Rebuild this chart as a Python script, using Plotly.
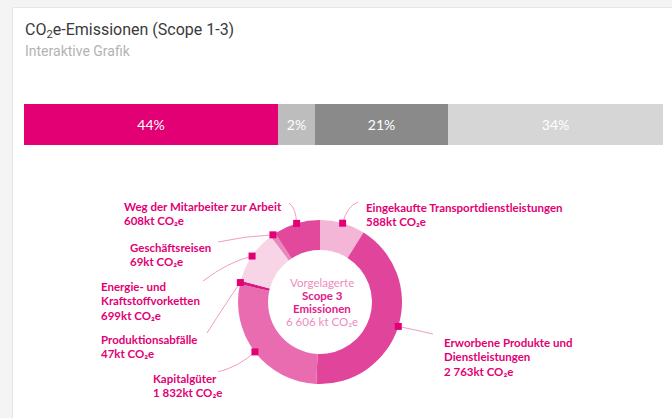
import math
import plotly.graph_objects as go

W, H = 672, 418

# ---------------- data ----------------
title_text = "CO<sub>2</sub>e-Emissionen (Scope 1-3)"
subtitle_text = "Interaktive Grafik"

bar_labels = ["44%", "2%", "21%", "34%"]
bar_values = [44, 2, 21, 34]

slice_names = [
    "Eingekaufte Transportdienstleistungen",
    "Erworbene Produkte und<br>Dienstleistungen",
    "Kapitalgüter",
    "Produktionsabfälle",
    "Energie- und<br>Kraftstoffvorketten",
    "Geschäftsreisen",
    "Weg der Mitarbeiter zur Arbeit",
]
slice_values = [588, 2763, 1832, 47, 699, 69, 608]
center_lines = ["Vorgelagerte", "Scope 3", "Emissionen"]
unit = "kt CO₂e"

# ---------------- styles ----------------
bar_colors = ["#e20074", "#bdbdbd", "#8a8a8a", "#d6d6d6"]
slice_colors = ["#f4b6d6", "#e0449b", "#ea6cb0", "#d81b80", "#f8d4e7", "#e887bd", "#e2499d"]
MAGENTA = "#e20074"
LEAD = "#f29cc8"
FONT = "Lato, Roboto, sans-serif"

# pie geometry (pixels)
CX, CY, R, HOLE = 320, 302, 82, 0.634
# bar geometry (pixels)
BX0, BX1, BY0, BY1 = 24, 663, 104, 145
MIN_W = 5.85   # minimum visible width of a bar segment (value units)
LINE_H = 14.8  # label line spacing (px)

# label layout per slice: first-line centre (tx, ty), leader end, curve control
label_layout = [
    dict(tx=364, ty=207, ex=358, ey=202, qx=347, qy=206),
    dict(tx=442, ty=342, ex=433, ey=334, qx=416, qy=330),
    dict(tx=151, ty=378, ex=218, ey=372, qx=240, qy=366),
    dict(tx=99, ty=339, ex=207, ey=333, qx=228, qy=300),
    dict(tx=99, ty=286, ex=203, ey=281, qx=228, qy=262),
    dict(tx=128, ty=247, ex=218, ey=242, qx=245, qy=236),
    dict(tx=122, ty=206, ex=289, ey=203, qx=296, qy=208),
]


def px(x):
    return x / W


def py(y):
    return 1 - y / H


def fmt(v):
    return f"{v:,}".replace(",", " ")


fig = go.Figure()

# ---------------- stacked bar with minimum segment width ----------------
total_bar = sum(bar_values)
ends = []
acc = 0
for v in bar_values:
    acc += v
    ends.append(acc)
starts = [0] + [ends[i] - max(bar_values[i], MIN_W) for i in range(1, len(bar_values))]
vis_ends = starts[1:] + [ends[-1]]
for i, (lab, col) in enumerate(zip(bar_labels, bar_colors)):
    fig.add_trace(go.Bar(
        y=[0], x=[vis_ends[i] - starts[i]], base=[starts[i]], orientation="h",
        width=1, marker=dict(color=col, line=dict(width=0)),
        text=[lab], textposition="inside", insidetextanchor="middle",
        textfont=dict(color="white", size=14, family=FONT), constraintext="none",
        hoverinfo="skip", showlegend=False, xaxis="x", yaxis="y",
    ))

# ---------------- donut ----------------
fig.add_trace(go.Pie(
    values=slice_values, labels=[n.replace("<br>", " ") for n in slice_names],
    sort=False, direction="clockwise", rotation=0, hole=HOLE,
    marker=dict(colors=slice_colors, line=dict(width=0)),
    textinfo="none", hoverinfo="label+value", showlegend=False,
    domain=dict(x=[px(CX - R), px(CX + R)], y=[py(CY + R), py(CY - R)]),
))

shapes = []
annotations = []

# card background
shapes.append(dict(type="rect", xref="paper", yref="paper", x0=px(12.5), x1=1.01, y0=-0.01, y1=py(7.5),
                   fillcolor="white", line=dict(color="#e6e6e6", width=1), layer="below"))

# markers + leaders + labels (one annotation per text line)
total = sum(slice_values)
cum = 0
for v, name, lay in zip(slice_values, slice_names, label_layout):
    mid = (cum + v / 2) / total * 2 * math.pi
    cum += v
    mx = CX + R * math.sin(mid)
    my = CY - R * math.cos(mid)
    shapes.append(dict(type="path", xref="paper", yref="paper", layer="above",
                       path=f"M {px(mx)} {py(my)} Q {px(lay['qx'])} {py(lay['qy'])} {px(lay['ex'])} {py(lay['ey'])}",
                       line=dict(color=LEAD, width=1)))
    shapes.append(dict(type="rect", xref="paper", yref="paper", layer="above",
                       x0=px(mx - 3.5), x1=px(mx + 3.5), y0=py(my + 3.5), y1=py(my - 3.5),
                       fillcolor=MAGENTA, line=dict(width=0)))
    lines = name.split("<br>") + [f"{fmt(v)}kt CO₂e"]
    for k, ln in enumerate(lines):
        annotations.append(dict(
            xref="paper", yref="paper", x=px(lay["tx"]), y=py(lay["ty"] + k * LINE_H),
            xanchor="left", yanchor="middle", text=f"<b>{ln}</b>", showarrow=False, align="left",
            font=dict(family=FONT, size=11.5, color=MAGENTA),
        ))

# centre text (one annotation per line)
center_texts = [
    (center_lines[0], "#ee8cc0", False),
    (center_lines[1], "#e0208a", True),
    (center_lines[2], "#e0208a", True),
    (f"{fmt(total)} {unit}", "#ee8cc0", False),
]
for k, (t, c, b) in enumerate(center_texts):
    annotations.append(dict(
        xref="paper", yref="paper", x=px(CX + 2), y=py(CY + (k - 1.5) * 12.8),
        xanchor="center", yanchor="middle", text=f"<b>{t}</b>" if b else t,
        showarrow=False, font=dict(family=FONT, size=11.5, color=c),
    ))

# title / subtitle
annotations.append(dict(xref="paper", yref="paper", x=px(23), y=py(30), xanchor="left", yanchor="middle",
                        text=title_text, showarrow=False,
                        font=dict(family="Roboto, sans-serif", size=16, color="#3a3a3a")))
annotations.append(dict(xref="paper", yref="paper", x=px(23), y=py(51), xanchor="left", yanchor="middle",
                        text=subtitle_text, showarrow=False,
                        font=dict(family="Roboto, sans-serif", size=14, color="#b3b3b3")))

fig.update_layout(
    width=W, height=H, margin=dict(l=0, r=0, t=0, b=0),
    paper_bgcolor="#f4f4f4", plot_bgcolor="rgba(0,0,0,0)",
    barmode="overlay", bargap=0,
    xaxis=dict(domain=[px(BX0), px(BX1)], range=[0, total_bar], visible=False, fixedrange=True),
    yaxis=dict(domain=[py(BY1), py(BY0)], range=[-0.5, 0.5], visible=False, fixedrange=True),
    shapes=shapes, annotations=annotations,
)

fig.write_html("out.html", config={"displayModeBar": False},
               post_script="document.body.style.margin='0';document.body.style.overflow='hidden';")
